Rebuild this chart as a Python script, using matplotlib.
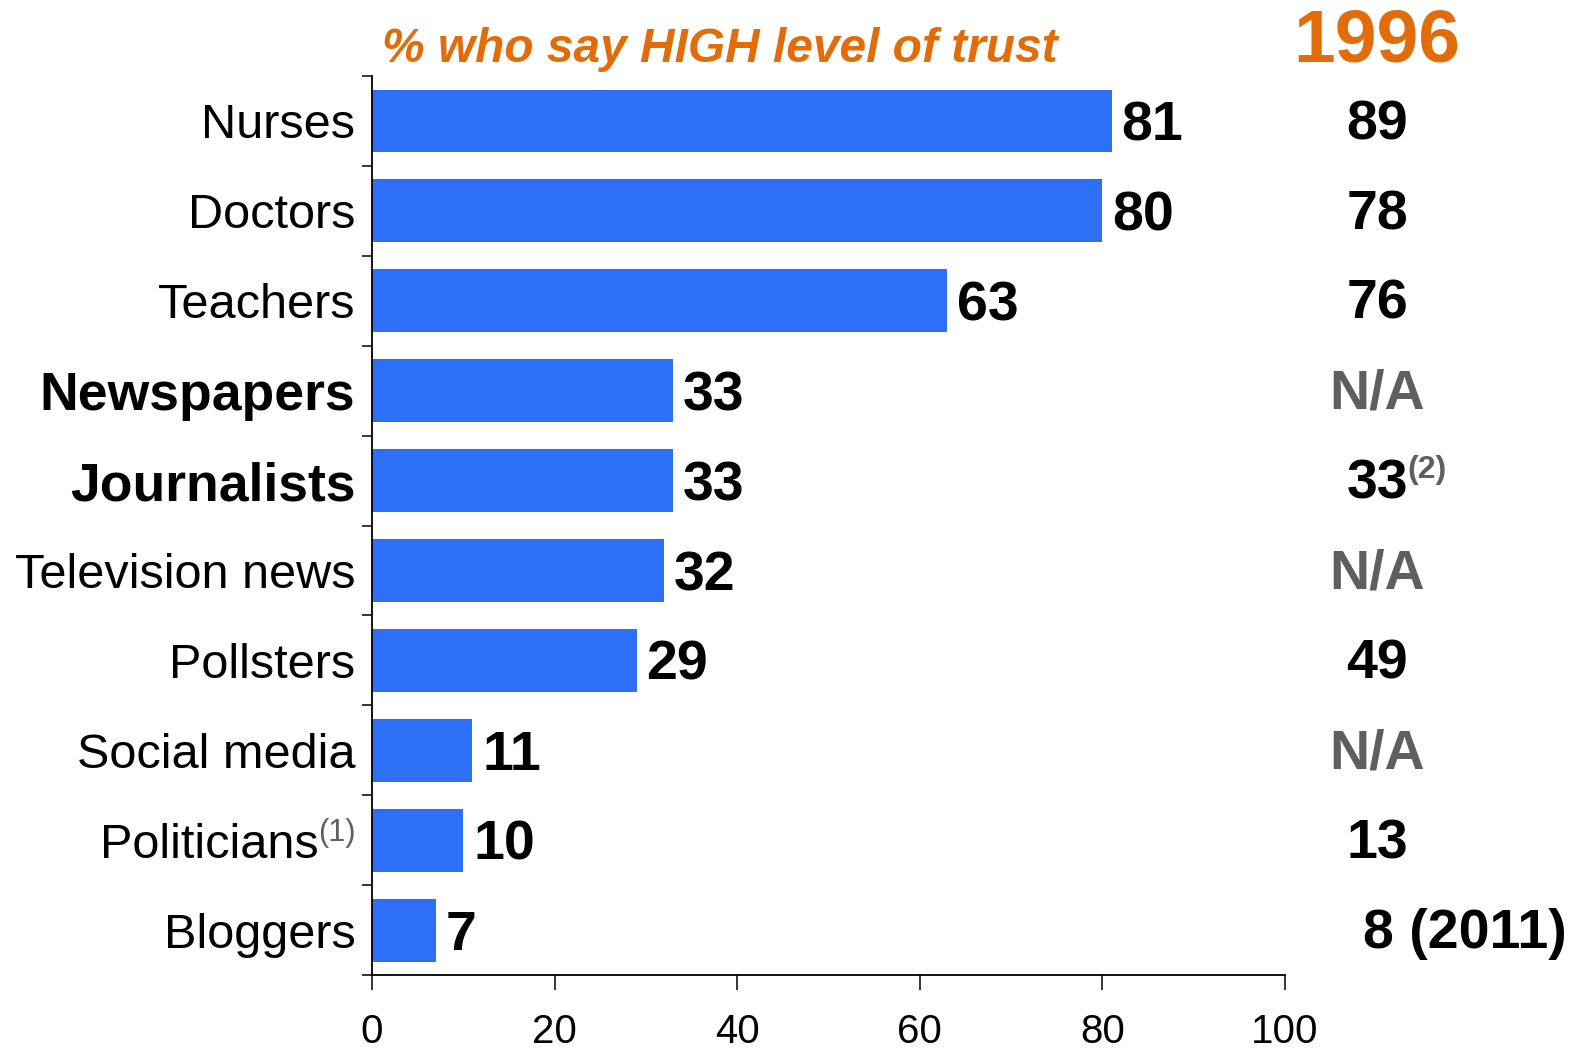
import matplotlib
matplotlib.use("Agg")
import matplotlib.pyplot as plt
from matplotlib.transforms import ScaledTranslation
import numpy as np

plt.rcParams['font.family'] = ['Liberation Sans', 'DejaVu Sans']

categories = ["Nurses", "Doctors", "Teachers", "Newspapers", "Journalists",
              "Television news", "Pollsters", "Social media", "Politicians", "Bloggers"]
values_now = [81, 80, 63, 33, 33, 32, 29, 11, 10, 7]
values_1996 = ["89", "78", "76", "N/A", "33", "N/A", "49", "N/A", "13", "8"]
bold_categories = ["Newspapers", "Journalists"]
x_ticks = [0, 20, 40, 60, 80, 100]

BLUE = "#2D6FF7"
ORANGE = "#E36C0A"
GREY = "#5F5F5F"

fig = plt.figure(figsize=(15.75, 10.56), dpi=100)
ax = fig.add_axes([0.2362, 0.0767, 0.5797, 0.8513])

y = np.arange(len(categories))
ax.barh(y, values_now, height=0.70, color=BLUE, zorder=2)
ax.set_xlim(0, 100)
ax.set_ylim(len(categories) - 0.5, -0.5)

# spines
for s in ("top", "right"):
    ax.spines[s].set_visible(False)
for s in ("left", "bottom"):
    ax.spines[s].set_linewidth(1.3)
    ax.spines[s].set_color("black")

# x axis ticks
ax.set_xticks(x_ticks)
ax.set_xticklabels([str(t) for t in x_ticks], fontsize=29)
ax.tick_params(axis='x', direction='out', length=11, width=1.1, pad=16)

# y axis: labels at bar centres, tick marks at category boundaries
ax.set_yticks(y)
ax.set_yticklabels(categories, fontsize=35)
ax.tick_params(axis='y', which='major', length=0, pad=12)
ax.set_yticks(np.arange(-0.5, len(categories), 1.0), minor=True)
ax.tick_params(axis='y', which='minor', direction='out', length=7.5, width=1.1)

for lbl in ax.get_yticklabels():
    if lbl.get_text() in bold_categories:
        lbl.set_fontweight('bold')
        lbl.set_fontsize(38.5)
    if lbl.get_text() == "Politicians":
        lbl.set_transform(lbl.get_transform() + ScaledTranslation(-37 / 100, 0, fig.dpi_scale_trans))

# footnote marker after "Politicians"
pol = categories.index("Politicians")
ax.annotate("(1)", xy=(0, pol), xycoords='data', xytext=(-12, 5), textcoords='offset points',
            ha='right', va='center', fontsize=22, color=GREY, annotation_clip=False)

# value labels at bar ends
for yi, v in zip(y, values_now):
    ax.annotate(str(v), xy=(v, yi), xytext=(7, -4), textcoords='offset points',
                ha='left', va='center', fontsize=40, fontweight='bold', color='black')

# 1996 comparison column
col_x = 110.1
for yi, v in zip(y, values_1996):
    color = GREY if v == "N/A" else "black"
    if categories[yi] == "Bloggers":
        ax.annotate(v + " (2011)", xy=(108.5, yi), xytext=(0, -3), textcoords='offset points',
                    ha='left', va='center', fontsize=40, fontweight='bold', color='black',
                    annotation_clip=False)
    else:
        ax.annotate(v, xy=(col_x, yi), xytext=(0, -3), textcoords='offset points',
                    ha='center', va='center', fontsize=40, fontweight='bold', color=color,
                    annotation_clip=False)
    if categories[yi] == "Journalists":
        ax.text(113.4, yi - 0.12, "(2)", ha='left', va='center', fontsize=23,
                fontweight='bold', color=GREY, clip_on=False)

fig.text(1377 / 1575, 1 - 42 / 1056, "1996", ha='center', va='center', fontsize=54,
         fontweight='bold', color=ORANGE)
fig.text(382 / 1575, 1 - 49 / 1056, "% who say HIGH level of trust", ha='left', va='center',
         fontsize=34.5, fontweight='bold', fontstyle='italic', color=ORANGE)

fig.savefig("out.png", dpi=100, facecolor='white')
